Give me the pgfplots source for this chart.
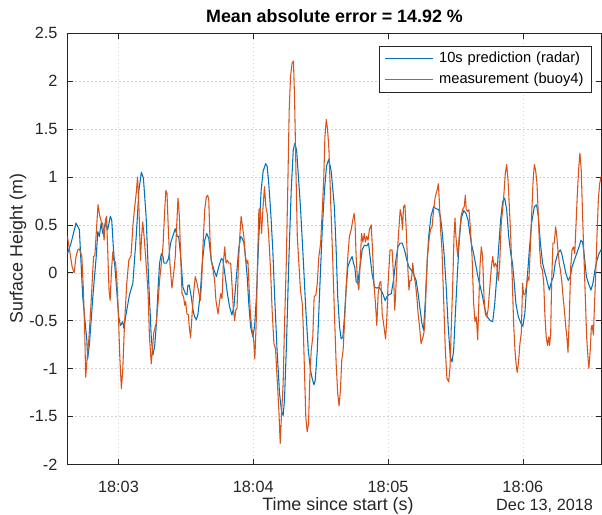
\documentclass[border=0pt]{standalone}
\usepackage{pgfplots}
\pgfplotsset{compat=1.18}
\usepackage{fontspec}
\setmainfont{Liberation Sans}
\definecolor{mblue}{RGB}{0,114,189}
\definecolor{morange}{RGB}{217,83,25}
\definecolor{axgray}{RGB}{38,38,38}
\begin{document}
\begin{tikzpicture}
\path[use as bounding box] (-50.6pt,-37.3pt) rectangle (400.9pt,348.25pt);
\begin{axis}[
  at={(0,0)}, anchor=south west,
  scale only axis, width=400.5pt, height=323.25pt,
  xmin=157.3, xmax=395, ymin=-2, ymax=2.5,
  xtick={180,240,300,360}, xticklabels={18:03,18:04,18:05,18:06},
  ytick={-2,-1.5,-1,-0.5,0,0.5,1,1.5,2,2.5},
  yticklabels={-2,-1.5,-1,-0.5,0,0.5,1,1.5,2,2.5},
  tick align=inside, major tick length=4pt,
  tick style={axgray, line width=0.5pt},
  axis line style={axgray, line width=0.5pt},
  tick label style={font=\fontsize{12.2}{14}\selectfont, color=axgray},
  xticklabel style={anchor=base, yshift=-20.8pt},
  yticklabel style={anchor=east, xshift=-4pt},
  grid=major,
  major grid style={gray!35, line width=0.4pt, dash pattern=on 0.8pt off 2.2pt},
  title={Mean absolute error = 14.92 \%},
  title style={at={(axis description cs:0.5,1.0068)}, anchor=base, font=\bfseries\fontsize{13.4}{16}\selectfont},
  xlabel={Time since start (s)},
  xlabel style={at={(axis description cs:0.5065,-0.0968)}, anchor=center, font=\fontsize{13.4}{16}\selectfont, color=axgray},
  ylabel={Surface Height (m)},
  ylabel style={at={(axis description cs:-0.0926,0.5)}, anchor=center, font=\fontsize{13.4}{16}\selectfont, color=axgray},
  legend style={at={(1,1)}, anchor=north east, xshift=-7pt, yshift=-9.3pt,
    draw=axgray, line width=0.5pt, fill=white,
    font=\fontsize{11}{13}\selectfont,
    inner xsep=3.5pt, inner ysep=4.1pt, row sep=4.75pt,
    nodes={inner sep=0pt, text height=8.5pt, text depth=2.5pt, text width=111pt}},
  legend cell align=left,
  /tikz/every odd column/.append style={column sep=4.3pt},
  legend image code/.code={\draw[#1] (0pt,0pt) -- (36pt,0pt);},
  every axis plot/.append style={line width=0.8pt, line join=round},
  extra description/.code={\node[anchor=center, font=\fontsize{12.2}{14}\selectfont, text=axgray] at (0.8935,-0.0968) {Dec 13, 2018};},
]
\addplot[mblue] coordinates {
(157.3,0.20) (158.9,0.31) (161.1,0.52) (162.6,0.45) (164.1,-0.25) (165.9,-0.70) (166.3,-0.90) (167.1,-0.74)
(168.6,-0.25) (170.1,0.17) (170.8,0.43) (171.5,0.38) (172.3,0.52) (173.0,0.41) (174.2,0.52) (175.2,0.45)
(176.4,0.59) (177.0,0.55) (177.8,0.24) (179.0,-0.11) (180.1,-0.46) (180.9,-0.55) (181.9,-0.51) (182.4,-0.58)
(183.4,-0.43) (184.9,-0.23) (186.4,-0.11) (187.9,0.38) (189.1,0.86) (190.2,1.05) (191.1,0.99) (192.3,0.59)
(193.5,-0.11) (194.6,-0.67) (195.3,-0.86) (196.1,-0.77) (196.8,-0.56) (197.6,-0.18) (198.3,0.10) (199.1,0.20)
(199.8,0.17) (200.3,0.10) (201.3,0.10) (202.3,0.15) (203.2,0.31) (204.3,0.39) (205.3,0.46) (206.2,0.38)
(206.8,0.38) (207.7,0.17) (208.7,-0.15) (209.8,-0.22) (210.5,-0.23) (210.9,-0.13) (211.5,-0.13) (212.4,-0.25)
(213.2,-0.39) (213.9,-0.46) (214.7,-0.49) (215.4,-0.43) (216.4,-0.22) (217.3,0.10) (218.4,0.34) (219.3,0.41)
(220.2,0.36) (221.3,0.13) (222.5,0.03) (223.6,-0.04) (224.6,0.06) (225.8,0.15) (226.5,0.13) (227.3,0.00)
(228.5,-0.22) (229.5,-0.36) (230.5,-0.44) (231.4,-0.35) (232.5,-0.04) (233.5,0.24) (234.4,0.38) (235.0,0.36)
(235.8,0.32) (236.5,0.17) (237.3,-0.04) (238.0,-0.32) (238.8,-0.56) (239.8,-0.67) (240.6,-0.56) (241.4,-0.25)
(242.5,0.38) (243.5,0.86) (244.4,1.06) (245.5,1.14) (246.2,1.11) (246.9,0.93) (247.7,0.66) (248.7,0.24)
(249.6,-0.29) (250.6,-0.81) (251.7,-1.26) (252.6,-1.45) (253.3,-1.49) (253.9,-1.33) (254.8,-0.74) (255.8,0.10)
(256.9,0.86) (257.8,1.28) (258.5,1.35) (259.3,1.28) (260.0,1.04) (261.0,0.69) (262.2,0.17) (263.4,-0.39)
(264.5,-0.81) (265.5,-1.02) (266.2,-1.10) (267.0,-1.17) (267.6,-1.12) (268.5,-0.81) (269.7,-0.11) (270.7,0.45)
(271.7,0.86) (272.6,1.11) (273.5,1.18) (274.1,1.13) (274.7,1.06) (275.3,0.90) (276.1,0.69) (276.9,0.24)
(277.6,-0.25) (278.4,-0.56) (279.1,-0.69) (279.9,-0.67) (280.6,-0.46) (281.3,-0.18) (282.1,0.06) (283.1,0.13)
(284.0,0.17) (284.6,0.10) (285.2,0.06) (285.8,-0.09) (286.5,-0.11) (287.3,0.03) (288.5,0.24) (289.5,0.29)
(290.5,0.28) (291.3,0.31) (292.0,0.17) (292.9,-0.01) (294.0,-0.15) (295.0,-0.16) (295.9,-0.15) (296.9,-0.18)
(297.7,-0.22) (298.7,-0.29) (299.5,-0.25) (300.3,-0.23) (301.4,-0.22) (302.4,-0.08) (303.3,0.10) (304.4,0.27)
(305.4,0.31) (306.3,0.31) (307.3,0.24) (308.4,0.13) (309.3,0.06) (310.3,0.03) (311.3,-0.01) (312.5,-0.08)
(313.4,-0.22) (314.3,-0.39) (315.1,-0.53) (315.8,-0.60) (316.6,-0.29) (317.3,0.06) (318.1,0.38) (319.1,0.59)
(320.3,0.69) (321.3,0.67) (322.5,0.66) (323.3,0.59) (324.0,0.45) (324.8,0.24) (325.8,-0.11) (326.7,-0.53)
(327.7,-0.88) (328.5,-0.93) (329.2,-0.81) (329.9,-0.46) (330.8,-0.04) (331.7,0.34) (332.6,0.57) (333.7,0.65)
(334.7,0.62) (335.6,0.55) (336.6,0.38) (337.4,0.27) (338.1,0.20) (338.9,0.10) (340.0,-0.04) (341.1,-0.15)
(342.1,-0.25) (343.0,-0.37) (344.1,-0.46) (344.8,-0.48) (345.5,-0.50) (346.6,-0.51) (347.5,-0.32) (348.4,-0.04)
(349.25,0.27) (350.1,0.55) (351.0,0.74) (351.9,0.78) (352.8,0.66) (353.7,0.38) (354.6,0.20) (355.4,0.10)
(356.2,-0.11) (356.9,-0.32) (358.0,-0.46) (359.2,-0.53) (360.0,-0.56) (360.9,-0.42) (361.8,-0.11) (362.9,0.24)
(363.9,0.52) (365.1,0.69) (366.1,0.71) (366.9,0.59) (367.8,0.31) (368.8,0.10) (369.5,0.03) (370.3,-0.04)
(371.0,-0.11) (371.8,-0.18) (372.5,-0.11) (373.6,-0.04) (374.4,0.10) (375.5,0.20) (376.7,0.24) (377.3,0.20)
(378.2,0.10) (379.2,-0.01) (380.2,-0.08) (381.1,-0.04) (381.9,0.06) (382.9,0.13) (383.95,0.20) (385.0,0.27)
(385.9,0.34) (386.6,0.32) (387.4,0.17) (388.3,-0.04) (389.2,-0.11) (390.3,-0.18) (391.2,-0.11) (392.1,0.03)
(393.0,0.13) (393.9,0.20) (394.8,0.24) (395.2,0.24)
};
\addlegendentry{10s prediction (radar)}
\addplot[morange] coordinates {
(157.3,0.38) (158.2,0.24) (159.4,0.06) (160.3,0.00) (161.1,0.17) (161.9,0.24) (162.6,0.25) (163.7,0.17)
(164.4,-0.18) (165.0,-0.63) (165.4,-1.09) (166.0,-0.91) (166.8,-0.70) (167.8,-0.32) (168.9,0.17) (169.5,0.18)
(170.2,0.45) (170.9,0.71) (171.7,0.59) (172.4,0.53) (173.0,0.51) (173.6,0.34) (174.2,0.55) (174.7,0.59)
(175.2,0.24) (175.8,-0.18) (176.3,-0.29) (176.9,0.03) (177.5,0.22) (177.9,0.13) (178.7,0.11) (179.3,-0.08)
(180.0,-0.46) (180.6,-0.88) (181.3,-1.21) (181.9,-1.02) (182.7,-0.53) (183.7,-0.11) (184.6,0.13) (185.6,0.18)
(186.4,0.48) (187.1,0.66) (187.9,0.83) (188.5,1.00) (189.1,0.69) (189.8,0.13) (190.2,0.34) (190.8,0.53)
(191.4,0.38) (192.3,0.10) (193.2,-0.22) (193.8,-0.67) (194.6,-0.95) (195.1,-0.81) (195.7,-0.63) (196.2,-0.58)
(196.8,-0.53) (197.6,-0.32) (198.3,-0.08) (199.1,0.10) (199.8,0.27) (200.6,0.66) (201.1,0.86) (201.6,0.83)
(202.2,0.45) (202.9,0.10) (203.8,-0.16) (204.6,0.00) (205.3,0.17) (205.9,0.48) (206.5,0.78) (207.1,0.59)
(207.7,0.17) (208.3,-0.22) (209.0,-0.25) (209.5,-0.34) (209.9,-0.30) (210.5,-0.43) (211.1,-0.44) (211.5,-0.56)
(212.1,-0.68) (212.7,-0.46) (213.3,-0.25) (214.2,-0.04) (214.8,-0.09) (215.55,-0.18) (216.4,-0.29) (217.0,-0.11)
(217.6,0.27) (218.4,0.66) (219.1,0.79) (219.7,0.81) (220.2,0.76) (220.7,0.38) (221.3,0.13) (222.1,0.03)
(222.8,-0.08) (223.4,-0.29) (224.3,-0.43) (224.9,-0.32) (225.5,-0.22) (226.1,-0.27) (226.7,0.10) (227.3,0.27)
(227.9,0.10) (228.5,0.13) (229.1,0.10) (229.95,0.10) (230.5,-0.11) (231.1,-0.36) (231.7,-0.50) (232.2,-0.39)
(232.8,-0.37) (233.4,0.10) (234.0,0.38) (234.6,0.59) (235.0,0.52) (235.8,0.38) (236.5,0.17) (237.1,0.10)
(237.6,0.13) (238.2,-0.18) (238.8,-0.46) (239.5,-0.60) (240.1,-0.67) (240.7,-0.90) (241.3,-0.53) (241.9,0.10)
(242.5,0.66) (243.1,0.67) (243.7,0.41) (244.3,0.66) (245.0,0.90) (245.6,0.69) (246.2,0.62) (246.9,0.38)
(247.7,0.03) (248.4,-0.39) (249.2,-0.74) (249.9,-0.79) (250.6,-1.09) (251.4,-1.44) (252.0,-1.78) (252.6,-1.47)
(253.3,-1.16) (253.9,-0.56) (254.7,0.10) (255.4,0.93) (256.0,1.70) (256.6,2.05) (257.3,2.19) (257.9,2.21)
(258.4,1.81) (259.0,1.07) (259.6,0.38) (260.3,0.10) (261.0,-0.18) (261.8,-0.32) (262.2,-0.53) (262.8,-1.02)
(263.4,-1.51) (264.0,-1.66) (264.6,-1.58) (265.2,-1.09) (265.8,-0.81) (266.5,-0.67) (267.1,-0.25) (267.9,-0.23)
(268.5,-0.11) (269.2,0.17) (270.0,0.31) (270.8,0.69) (271.4,1.00) (271.9,1.42) (272.5,1.60) (273.1,1.49)
(273.7,1.28) (274.3,0.86) (274.9,0.45) (275.4,0.12) (276.1,-0.40) (276.9,-0.95) (277.6,-1.26) (278.2,-1.39)
(278.8,-1.23) (279.4,-0.91) (280.0,-0.81) (280.6,-0.53) (281.3,-0.18) (282.1,0.17) (282.8,0.38) (283.6,0.45)
(284.3,0.55) (284.9,0.62) (285.3,0.52) (285.8,0.17) (286.4,-0.08) (287.0,-0.18) (287.6,0.10) (288.2,0.41)
(288.8,0.32) (289.4,0.41) (289.95,0.32) (290.5,0.38) (291.1,0.34) (291.7,0.45) (292.5,0.50) (293.1,0.24)
(293.7,-0.11) (294.4,-0.32) (295.0,-0.55) (295.6,-0.22) (296.2,-0.11) (296.8,-0.09) (297.4,-0.43) (298.0,-0.53)
(298.9,-0.69) (299.5,-0.46) (300.0,-0.11) (300.9,0.24) (301.8,0.24) (302.4,-0.01) (303.0,-0.39) (303.6,-0.11)
(304.2,0.24) (304.8,0.45) (305.4,0.66) (306.0,0.59) (306.4,0.45) (306.9,0.69) (307.5,0.71) (308.1,0.45)
(308.7,0.10) (309.3,-0.18) (309.8,-0.08) (310.4,-0.08) (311.0,0.10) (311.6,-0.04) (312.2,-0.11) (312.8,-0.25)
(313.4,-0.43) (314.0,-0.56) (314.7,-0.74) (315.8,-0.65) (316.3,-0.56) (316.9,-0.18) (317.5,0.17) (318.4,0.38)
(319.0,0.46) (319.6,0.48) (320.3,0.66) (321.0,0.79) (321.8,0.86) (322.4,0.93) (322.8,0.76) (323.4,0.45)
(324.0,0.24) (324.8,-0.32) (325.5,-0.81) (326.2,-1.10) (327.0,-1.14) (327.6,-0.98) (328.2,-0.53) (328.8,-0.11)
(329.35,0.38) (329.8,0.57) (330.2,0.38) (331.0,0.17) (331.7,0.38) (332.5,0.59) (333.2,0.66) (333.9,0.69)
(334.4,0.81) (334.8,0.66) (335.4,0.64) (336.0,0.66) (336.6,0.48) (337.4,0.17) (338.1,-0.32) (338.7,-0.51)
(339.3,-0.46) (339.9,-0.70) (340.3,-0.39) (340.9,0.06) (341.5,0.27) (342.1,0.17) (342.7,-0.25) (343.3,-0.43)
(343.9,-0.46) (344.5,-0.39) (345.2,-0.18) (346.0,0.06) (346.6,0.17) (347.2,0.06) (347.8,0.10) (348.5,0.06)
(349.1,-0.08) (349.7,0.10) (350.4,0.52) (351.0,0.66) (351.6,0.83) (352.2,1.04) (352.8,1.13) (353.4,0.97)
(354.0,0.69) (354.6,0.38) (355.3,-0.08) (355.9,-0.53) (356.5,-0.81) (357.1,-0.98) (357.5,-1.04) (358.1,-0.93)
(358.7,-0.74) (359.3,-0.63) (359.9,-0.11) (360.3,-0.22) (360.9,-0.23) (361.5,-0.15) (362.1,-0.04) (362.7,-0.08)
(363.3,0.24) (363.9,0.59) (364.5,0.93) (365.1,1.13) (365.7,1.07) (366.3,0.93) (366.9,0.59) (367.5,0.24)
(368.1,0.06) (368.7,0.03) (369.3,-0.11) (369.8,-0.43) (370.4,-0.67) (371.0,-0.76) (371.5,-0.67) (371.9,-0.76)
(372.4,-0.63) (372.8,-0.11) (373.4,0.31) (374.0,0.31) (374.6,0.48) (375.0,0.41) (375.6,0.24) (376.2,0.10)
(376.7,0.03) (377.3,-0.08) (377.9,-0.25) (378.5,-0.39) (379.1,-0.56) (379.6,-0.67) (380.1,-0.83) (380.7,-0.46)
(381.3,0.06) (381.9,0.24) (382.5,0.27) (383.1,0.20) (383.7,0.52) (384.2,0.79) (384.8,1.07) (385.4,1.25)
(386.0,1.07) (386.6,0.59) (387.2,0.17) (387.8,-0.25) (388.4,-0.67) (389.0,-0.88) (389.4,-1.00) (390.0,-0.81)
(390.5,-0.56) (390.9,-0.55) (391.4,-0.65) (391.8,-0.39) (392.4,-0.04) (393.0,0.38) (393.6,0.76) (394.2,0.93)
(394.8,1.00) (395.2,0.99)
};
\addlegendentry{measurement (buoy4)}
\end{axis}
\end{tikzpicture}
\end{document}
